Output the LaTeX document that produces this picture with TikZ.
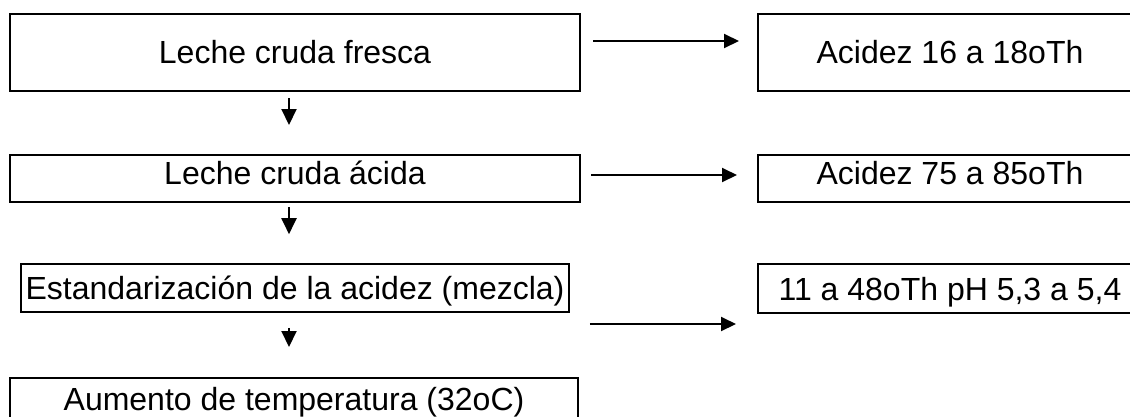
\documentclass[tikz,border=0pt]{standalone}
\usepackage{fontspec}
\setmainfont{Liberation Sans}
\usetikzlibrary{arrows.meta}

\begin{document}
\begin{tikzpicture}[x=1pt,y=-1pt,
  font=\fontsize{32}{38}\selectfont,
  box/.style={draw, line width=2pt, inner sep=0pt, text height=23pt, text depth=#1},
  box/.default=0pt,
  arr/.style={line width=2pt, -{Triangle[length=15pt,width=14pt]}},
  darr/.style={line width=2pt, -{Triangle[length=16pt,width=15pt]}}]

  \fill[white] (0,0) rectangle (1130,416);
  \path[use as bounding box] (0,0) rectangle (1130,416);
  \clip (0,0) rectangle (1130,416);

  % process steps (left column)
  \node[box=2pt, minimum width=570pt, minimum height=77pt] (l1) at (295,52.5) {Leche cruda fresca};
  \node[box=12pt, minimum width=570pt, minimum height=47pt] (l2) at (295,178.5) {Leche cruda ácida};
  \node[box=0pt, line width=1.6pt, minimum width=548pt, minimum height=48pt] (l3) at (295,288) {Estandarización de la acidez (mezcla)};
  \node[box=1pt, minimum width=568pt, minimum height=42pt] (l4) at (294,399) {Aumento de temperatura (32oC)};

  % acidity values (right column)
  \node[box=2pt, minimum width=384pt, minimum height=77pt] (r1) at (950,52.5) {Acidez 16 a 18oTh};
  \node[box=12pt, minimum width=384pt, minimum height=47pt] (r2) at (950,178.5) {Acidez 75 a 85oTh};
  \node[box=0pt, minimum width=384pt, minimum height=49pt] (r3) at (950,288.5) {11 a 48oTh pH 5,3 a 5,4};

  % flow downwards
  \draw[darr, shorten <=6pt, shorten >=29pt] ([xshift=-6pt]l1.south) -- ([xshift=-6pt]l1.south |- l2.north);
  \draw[darr, shorten <=4pt, shorten >=29pt] ([xshift=-6pt]l2.south) -- ([xshift=-6pt]l2.south |- l3.north);
  \draw[darr, shorten <=15pt, shorten >=30pt] ([xshift=-6pt]l3.south) -- ([xshift=-6pt]l3.south |- l4.north);

  % links to the acidity values
  \draw[arr, shorten <=12pt, shorten >=18pt] ([yshift=11.5pt]l1.east) -- ([yshift=11.5pt]r1.west);
  \draw[arr, shorten <=10pt, shorten >=20pt] ([yshift=3.5pt]l2.east) -- ([yshift=3.5pt]r2.west);
  \draw[arr, shorten <=20pt, shorten >=21pt] ([yshift=-36pt]l3.east) -- ([yshift=-36pt]l3.east -| r3.west);
\end{tikzpicture}
\end{document}
